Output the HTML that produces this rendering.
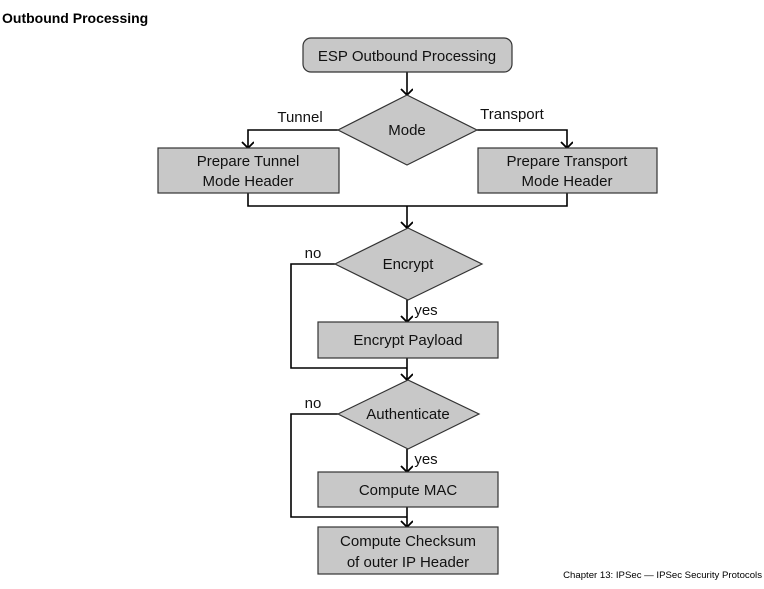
<!DOCTYPE html>
<html><head><style>
body{margin:0;background:#fff;width:764px;height:584px;overflow:hidden;font-family:"Liberation Sans",Arial,sans-serif}
</style></head><body>
<svg width="764" height="584" xmlns="http://www.w3.org/2000/svg" font-family="Liberation Sans, Arial, sans-serif">
<defs><marker id="a" markerWidth="12" markerHeight="14" refX="8" refY="6" orient="auto" markerUnits="userSpaceOnUse"><path d="M2,0 L8,6 L2,12" fill="none" stroke="#000" stroke-width="1.8"/></marker></defs>
<text x="2" y="23" font-size="14" font-weight="bold">Outbound Processing</text>
<g stroke="#000" stroke-width="1.6" fill="none">
<path d="M407,72 V95" marker-end="url(#a)"/>
<path d="M338,130 H248 V148" marker-end="url(#a)"/>
<path d="M477,130 H567 V148" marker-end="url(#a)"/>
<path d="M248,193 V206 H567 V193"/>
<path d="M407,206 V228" marker-end="url(#a)"/>
<path d="M407,300 V322" marker-end="url(#a)"/>
<path d="M335,264 H291 V368 H407"/>
<path d="M407,358 V380" marker-end="url(#a)"/>
<path d="M407,449 V472" marker-end="url(#a)"/>
<path d="M338,414 H291 V517 H407"/>
<path d="M407,507 V527" marker-end="url(#a)"/>
</g>
<g fill="#c8c8c8" stroke="#333" stroke-width="1.2">
<rect x="303" y="38" width="209" height="34" rx="8"/>
<polygon points="407,95 477,130 407,165 338,130"/>
<rect x="158" y="148" width="181" height="45"/>
<rect x="478" y="148" width="179" height="45"/>
<polygon points="408,228 482,264 408,300 335,264"/>
<rect x="318" y="322" width="180" height="36"/>
<polygon points="408,380 479,414 408,449 338,414"/>
<rect x="318" y="472" width="180" height="35"/>
<rect x="318" y="527" width="180" height="47"/>
</g>
<g font-size="15" text-anchor="middle" fill="#111">
<text x="407" y="61">ESP Outbound Processing</text>
<text x="407" y="135">Mode</text>
<text x="248" y="166">Prepare Tunnel</text>
<text x="248" y="186">Mode Header</text>
<text x="567" y="166">Prepare Transport</text>
<text x="567" y="186">Mode Header</text>
<text x="408" y="269">Encrypt</text>
<text x="408" y="345">Encrypt Payload</text>
<text x="408" y="419">Authenticate</text>
<text x="408" y="495">Compute MAC</text>
<text x="408" y="546">Compute Checksum</text>
<text x="408" y="567">of outer IP Header</text>
<text x="300" y="122">Tunnel</text>
<text x="512" y="119">Transport</text>
<text x="313" y="258">no</text>
<text x="313" y="408">no</text>
<text x="426" y="315">yes</text>
<text x="426" y="464">yes</text>
</g>
<text x="762" y="578" font-size="9.6" text-anchor="end">Chapter 13: IPSec — IPSec Security Protocols</text>
</svg>
</body></html>
